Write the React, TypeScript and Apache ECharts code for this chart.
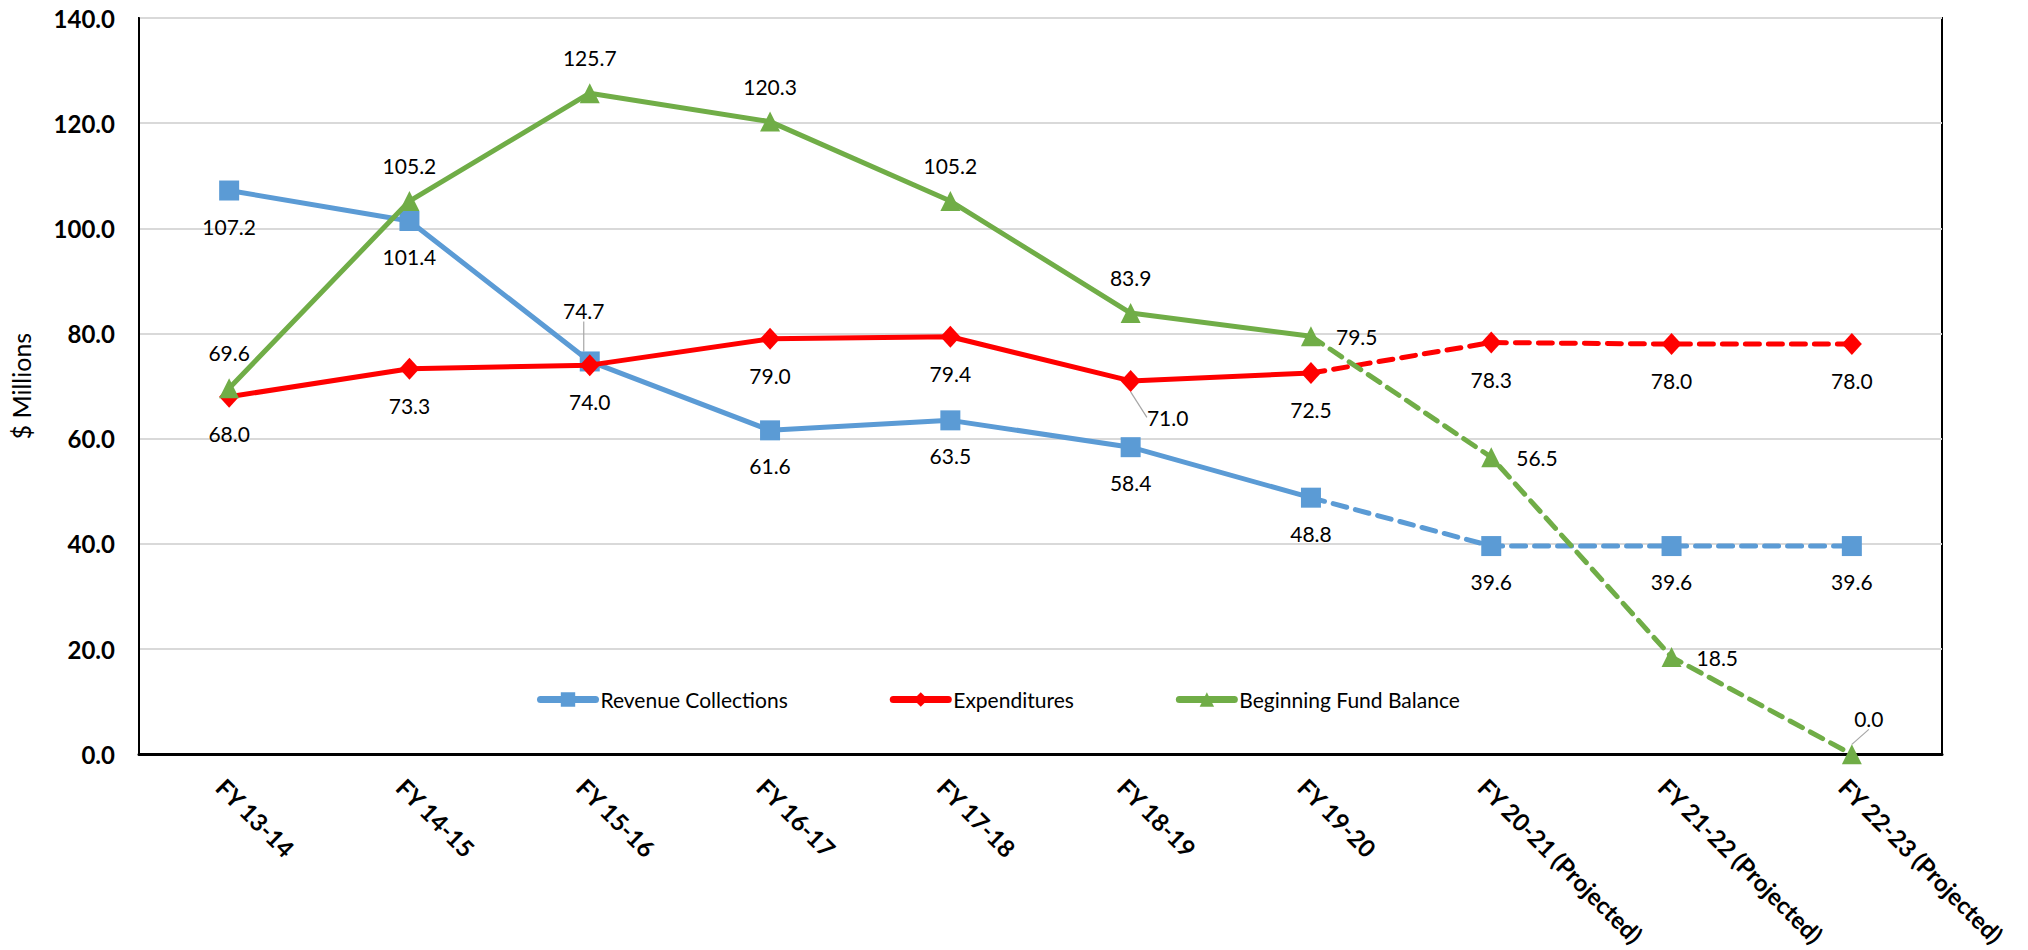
import React, { useEffect, useRef } from "react";
import * as echarts from "echarts";

const categories = [
  "FY 13-14",
  "FY 14-15",
  "FY 15-16",
  "FY 16-17",
  "FY 17-18",
  "FY 18-19",
  "FY 19-20",
  "FY 20-21 (Projected)",
  "FY 21-22 (Projected)",
  "FY 22-23 (Projected)",
];
const revenue = [107.2, 101.4, 74.7, 61.6, 63.5, 58.4, 48.8, 39.6, 39.6, 39.6];
const expenditures = [68.0, 73.3, 74.0, 79.0, 79.4, 71.0, 72.5, 78.3, 78.0, 78.0];
const balance = [69.6, 105.2, 125.7, 120.3, 105.2, 83.9, 79.5, 56.5, 18.5, 0.0];
const lastActual = 6;
const yTicks = { min: 0, max: 140, interval: 20 };

const seriesNames = ["Revenue Collections", "Expenditures", "Beginning Fund Balance"];
const colors = ["#5B9BD5", "#FF0000", "#70AD47"];
const symbols = ["rect", "diamond", "triangle"];
const labelPos: string[][] = [
  ["bottom", "bottom", "top", "bottom", "bottom", "bottom", "bottom", "bottom", "bottom", "bottom"],
  ["bottom", "bottom", "bottom", "bottom", "bottom", "bottom", "bottom", "bottom", "bottom", "bottom"],
  ["top", "top", "top", "top", "top", "top", "right", "right", "right", "top"],
];
// labels moved away from their points, with a leader line: [series, index, dx, dy]
const movedLabels: number[][] = [
  [0, 2, -6, -15],
  [1, 5, 37, 0],
  [2, 9, 17, 0],
];

const FONT = "Lato, 'Open Sans', sans-serif";

function moved(s: number, i: number) {
  return movedLabels.find((m) => m[0] === s && m[1] === i);
}

function buildSeries() {
  const all = [revenue, expenditures, balance];
  const out: any[] = [];
  all.forEach((vals, s) => {
    const mkItem = (v: number, i: number, hideMarker: boolean) => {
      const item: any = {
        value: v,
        label: {
          show: !hideMarker,
          position: labelPos[s][i],
        },
      };
      if (hideMarker) item.symbol = "none";
      if (moved(s, i)) item.labelLine = { show: true };
      return item;
    };
    const solid = vals.map((v, i) => (i <= lastActual ? mkItem(v, i, false) : "-"));
    const dashed = vals.map((v, i) =>
      i < lastActual ? "-" : mkItem(v, i, i === lastActual)
    );
    const common = {
      type: "line",
      symbol: symbols[s],
      symbolSize: symbols[s] === "diamond" ? [20, 22] : 20,
      itemStyle: { color: colors[s] },
      label: {
        show: true,
        distance: 15,
        color: "#000",
        fontFamily: FONT,
        fontSize: 21,
        formatter: (p: any) => Number(p.value).toFixed(1),
      },
      labelLine: {
        show: false,
        lineStyle: { color: "#A6A6A6", width: 1.2 },
      },
      labelLayout: (p: any) => {
        const m = moved(s, p.dataIndex);
        return m ? { dx: m[2], dy: m[3] } : {};
      },
      emphasis: { disabled: true },
      z: 2 + s,
    };
    out.push({
      ...common,
      name: seriesNames[s],
      data: solid,
      lineStyle: { color: colors[s], width: 5, cap: "round", join: "round" },
    });
    out.push({
      ...common,
      name: seriesNames[s] + " (Projected)",
      data: dashed,
      lineStyle: {
        color: colors[s],
        width: 5,
        type: [14, 9],
        cap: "round",
        join: "round",
      },
    });
  });
  return out;
}

export default function App() {
  const ref = useRef<HTMLDivElement>(null);
  useEffect(() => {
    if (!ref.current) return;
    const chart = echarts.init(ref.current, undefined, { renderer: "svg" });
    chart.setOption({
      animation: false,
      backgroundColor: "#fff",
      textStyle: { fontFamily: FONT },
      grid: {
        left: 134,
        right: 86,
        top: 18,
        bottom: 195,
        show: true,
        borderColor: "#000",
        borderWidth: 2,
        backgroundColor: "transparent",
      },
      legend: {
        data: seriesNames.map((n, i) => ({
          name: n,
          lineStyle: { width: 7, color: colors[i], cap: "round" },
        })),
        left: 537,
        top: 689,
        padding: 0,
        itemWidth: 55,
        itemHeight: 18,
        itemGap: 102,
        lineStyle: { width: 7 },
        textStyle: { fontFamily: FONT, fontSize: 21, color: "#000" },
      },
      xAxis: {
        type: "category",
        data: categories,
        boundaryGap: true,
        axisTick: { show: false },
        axisLine: { show: true, lineStyle: { color: "#000", width: 3 } },
        axisLabel: {
          rotate: -45,
          margin: 20,
          interval: 0,
          verticalAlign: "top",
          color: "#000",
          fontFamily: FONT,
          fontWeight: "bold",
          fontSize: 24,
        },
        splitLine: { show: false },
      },
      yAxis: {
        type: "value",
        min: yTicks.min,
        max: yTicks.max,
        interval: yTicks.interval,
        name: "$ Millions",
        nameLocation: "middle",
        nameGap: 106,
        nameTextStyle: { fontFamily: FONT, fontSize: 25, color: "#000" },
        axisLine: { show: true, lineStyle: { color: "#000", width: 2 } },
        axisTick: { show: false },
        axisLabel: {
          margin: 24,
          color: "#000",
          fontFamily: FONT,
          fontWeight: "bold",
          fontSize: 24,
          formatter: (v: number) => v.toFixed(1),
        },
        splitLine: { show: true, lineStyle: { color: "#D9D9D9", width: 2 } },
      },
      series: buildSeries(),
    });
    return () => chart.dispose();
  }, []);
  return (
    <div
      ref={ref}
      style={{ position: "fixed", left: 0, top: 0, width: 2028, height: 950 }}
    />
  );
}
